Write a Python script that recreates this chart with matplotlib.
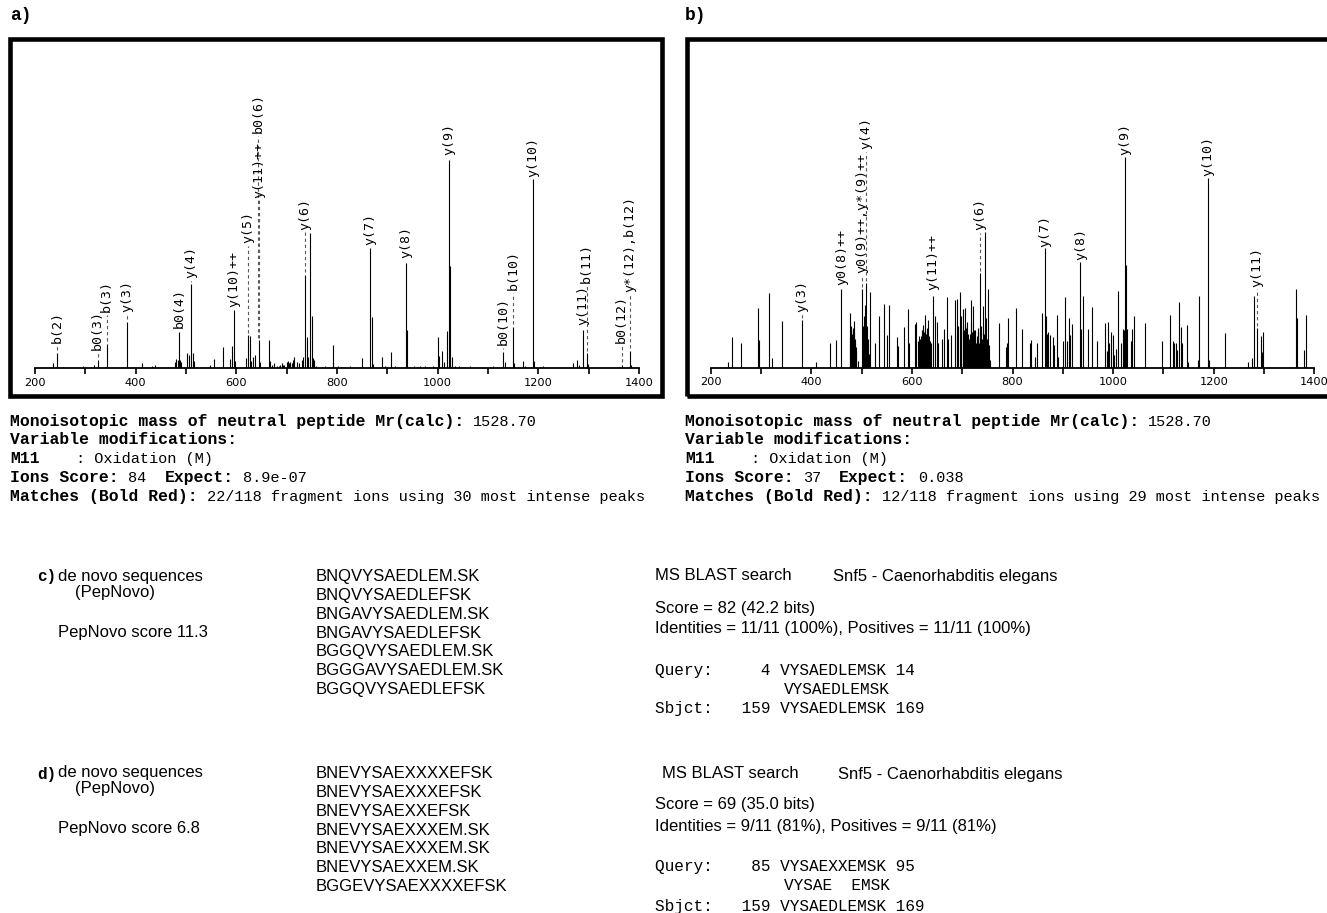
import matplotlib
matplotlib.use("Agg")
import matplotlib.pyplot as plt
import numpy as np
from matplotlib.patches import Rectangle
from matplotlib.ticker import MultipleLocator

# ---------------- data ----------------
# panel a: peak list (m/z, relative intensity)
a_mz = [235, 244, 255, 296, 317, 324.5, 342.4, 383.4, 413, 425,
        433, 439, 478, 480, 484, 486.7, 488.5, 491, 502.6, 505,
        510, 513, 515, 528, 535, 547.7, 556, 574, 587.4, 592,
        594.8, 597, 619, 622.6, 627, 630, 633.7, 636.4, 645, 648,
        665, 667, 670, 675, 680, 684, 687, 690, 692, 695,
        700, 702, 704, 707, 710, 712, 715, 720, 725, 730,
        733, 736, 740, 743, 747, 749.8, 752, 755, 758, 777,
        791.6, 793, 802, 812, 826, 848.7, 866, 869, 872, 889,
        895, 907.3, 915, 937, 939.8, 946, 953, 960, 965, 975,
        982, 990, 1000, 1002.6, 1008, 1012, 1018, 1023, 1025, 1028,
        1035, 1042, 1065, 1110, 1118, 1130.5, 1133, 1150.4, 1152, 1170,
        1173, 1190, 1192, 1210, 1268, 1277.5, 1280, 1288, 1296, 1298,
        1365.7, 1382, 1385]
a_int = [2.4, 7.5, 0.5, 1.1, 1.6, 4.0, 11.7, 22.4, 2.4, 0.8,
         1.1, 1.6, 3.2, 4.3, 4.0, 17.6, 4.0, 3.0, 7.2, 6.4,
         40.4, 7.2, 3.5, 0.8, 0.6, 1.6, 4.5, 10.4, 4.5, 10.9,
         28.0, 3.5, 4.8, 16.0, 15.7, 3.5, 5.6, 6.4, 13.6, 3.0,
         13.6, 3.5, 1.6, 2.4, 1.1, 1.1, 1.6, 2.4, 1.6, 1.6,
         3.2, 3.5, 2.7, 3.2, 2.4, 3.8, 5.3, 3.2, 2.4, 4.0,
         5.5, 45.0, 15.0, 5.3, 65.0, 25.0, 4.8, 4.0, 1.0, 1.0,
         11.2, 3.2, 1.0, 0.6, 1.0, 4.8, 57.7, 24.5, 2.0, 5.6,
         1.0, 7.7, 1.0, 50.5, 18.4, 0.8, 1.1, 0.8, 1.1, 1.1,
         0.8, 1.1, 15.2, 6.0, 8.5, 3.2, 18.0, 100.0, 49.0, 5.3,
         1.1, 1.1, 1.1, 1.1, 0.8, 8.0, 3.2, 20.0, 2.4, 3.7,
         1.1, 91.0, 3.5, 1.1, 2.4, 4.0, 1.6, 18.4, 7.2, 2.0,
         1.6, 8.5, 1.6]
a_labels = ["b(2)", "b0(3)", "b(3)", "y(3)", "b0(4)", "y(4)", "y(10)++", "y(5)",
            "y(11)++", "b0(6)", "y(6)", "y(7)", "y(8)", "y(9)", "b0(10)", "b(10)",
            "y(10)", "y(11)", "b(11)", "b0(12)", "y*(12),b(12)"]
a_label_mz = [244, 324.5, 342.4, 383.4, 486.7, 510, 594.8, 622.6,
              645, 643.5, 736, 866, 937, 1023, 1130.5, 1150.4,
              1190, 1288, 1296, 1365.7, 1382]

# panel b: main peak list
b_mz = [234, 243, 261, 295, 297, 316, 322, 341, 382, 410,
        437, 449, 460, 477, 479, 480, 482, 484, 486, 488,
        492, 501, 503, 504, 506, 508, 510, 512, 514, 516,
        526, 534, 544, 550, 554, 571, 573, 584, 592, 594,
        606, 609, 612, 614, 616, 618, 620, 623, 626, 628,
        630, 632, 634, 636, 642, 645, 650, 652, 660, 663,
        669, 672, 678, 686, 689, 692, 695, 698, 701, 704,
        706, 709, 712, 714, 717, 719, 721, 723, 726, 728,
        731, 733, 735, 738, 741, 743, 745, 748, 750, 752,
        755, 774, 787, 789, 792, 806, 818, 834, 837, 845,
        849, 859, 865, 867, 869, 871, 874, 880, 883, 889,
        891, 900, 905, 909, 912, 915, 919, 935, 937, 940,
        950, 959, 967, 983, 988, 990, 992, 995, 999, 1002,
        1005, 1009, 1015, 1019, 1021, 1023, 1025, 1028, 1036, 1038,
        1042, 1063, 1098, 1113, 1119, 1122, 1125, 1128, 1131, 1134,
        1136, 1147, 1149, 1169, 1171, 1189, 1191, 1223, 1268, 1277,
        1280, 1286, 1294, 1296, 1298, 1363, 1366, 1380, 1383]
b_int = [2.9, 14.6, 12.0, 28.8, 13.3, 35.7, 4.5, 22.4, 22.9, 2.6,
         11.7, 13.3, 37.7, 26.4, 18.0, 14.0, 18.0, 22.4, 12.0, 8.0,
         3.0, 37.7, 20.0, 25.0, 30.0, 40.5, 20.0, 14.0, 6.4, 36.5,
         11.7, 24.8, 30.6, 15.7, 30.1, 14.6, 10.5, 19.7, 28.0, 11.7,
         21.0, 22.0, 13.0, 15.0, 14.0, 15.0, 16.0, 20.5, 25.3, 12.0,
         14.0, 23.0, 15.0, 10.0, 34.5, 24.8, 22.0, 12.0, 14.0, 18.4,
         34.0, 14.0, 15.7, 32.5, 33.0, 20.0, 36.5, 25.0, 28.0, 18.0,
         28.5, 22.0, 16.0, 14.0, 32.5, 17.0, 29.6, 18.0, 14.0, 12.0,
         19.0, 12.0, 45.4, 20.0, 29.6, 16.0, 65.0, 24.0, 14.0, 37.7,
         3.5, 21.6, 10.0, 12.0, 23.7, 28.5, 18.4, 12.0, 13.3, 5.0,
         12.0, 26.4, 57.4, 24.8, 16.0, 17.3, 15.5, 14.6, 11.0, 25.3,
         5.0, 13.0, 33.8, 13.0, 23.7, 15.5, 21.0, 51.0, 18.8, 34.5,
         18.4, 29.0, 13.0, 21.6, 8.0, 22.0, 12.0, 17.3, 15.5, 6.0,
         9.0, 36.9, 12.0, 18.4, 18.0, 101.4, 49.4, 18.4, 13.0, 18.8,
         24.8, 21.6, 13.0, 25.3, 13.0, 12.0, 12.0, 8.5, 31.7, 19.7,
         12.0, 20.5, 2.9, 3.5, 34.6, 91.0, 3.5, 16.8, 2.6, 4.5,
         34.6, 18.9, 15.2, 7.6, 17.3, 37.8, 23.7, 8.7, 25.3]
# panel b: densely packed low peaks in the crowded regions
b_dense_mz = [476, 478, 481, 483, 485, 487, 489,
              619, 621, 622, 624, 625, 627, 629, 631, 633, 635, 637,
              690, 697, 702, 705, 708, 711, 715, 718, 722, 725, 729, 732,
              736, 739, 742, 746, 749, 753]
b_dense_int = [15, 20, 16, 19, 17, 14, 10,
               14, 18, 15, 17, 13, 18, 16, 19, 14, 13, 12,
               16, 20, 17, 21, 19, 13, 16, 22, 14, 18, 15, 17,
               19, 14, 17, 20, 13, 11]
b_labels = ["y(3)", "y0(8)++", "y0(9)++,y*(9)++", "y(4)", "y(11)++", "y(6)",
            "y(7)", "y(8)", "y(9)", "y(10)", "y(11)"]
b_label_mz = [382, 460, 501, 508, 642, 735, 865, 935, 1023, 1189, 1286]

x_major = [200, 400, 600, 800, 1000, 1200, 1400]

a_info = [[("Monoisotopic mass of neutral peptide Mr(calc):", True), ("1528.70", False)],
          [("Variable modifications:", True)],
          [("M11", True), (": Oxidation (M)", False)],
          [("Ions Score:", True), ("84", False), ("Expect:", True), ("8.9e-07", False)],
          [("Matches (Bold Red):", True), ("22/118 fragment ions using 30 most intense peaks", False)]]
b_info = [[("Monoisotopic mass of neutral peptide Mr(calc):", True), ("1528.70", False)],
          [("Variable modifications:", True)],
          [("M11", True), (": Oxidation (M)", False)],
          [("Ions Score:", True), ("37", False), ("Expect:", True), ("0.038", False)],
          [("Matches (Bold Red):", True), ("12/118 fragment ions using 29 most intense peaks", False)]]

c_seqs = ["BNQVYSAEDLEM.SK", "BNQVYSAEDLEFSK", "BNGAVYSAEDLEM.SK", "BNGAVYSAEDLEFSK",
          "BGGQVYSAEDLEM.SK", "BGGGAVYSAEDLEM.SK", "BGGQVYSAEDLEFSK"]
d_seqs = ["BNEVYSAEXXXXEFSK", "BNEVYSAEXXXEFSK", "BNEVYSAEXXEFSK", "BNEVYSAEXXXEM.SK",
          "BNEVYSAEXXXEM.SK", "BNEVYSAEXXEM.SK", "BGGEVYSAEXXXXEFSK"]
c_score = "PepNovo score 11.3"
d_score = "PepNovo score 6.8"
c_blast = ["Score = 82 (42.2 bits)", "Identities = 11/11 (100%), Positives = 11/11 (100%)"]
d_blast = ["Score = 69 (35.0 bits)", "Identities = 9/11 (81%), Positives = 9/11 (81%)"]
c_align = ["Query:     4 VYSAEDLEMSK 14", "VYSAEDLEMSK", "Sbjct:   159 VYSAEDLEMSK 169"]
d_align = ["Query:    85 VYSAEXXEMSK 95", "VYSAE  EMSK", "Sbjct:   159 VYSAEDLEMSK 169"]

# ---------------- layout ----------------
W, H = 1327, 913
fig = plt.figure(figsize=(W / 100, H / 100), dpi=100)
bg = fig.add_axes([0, 0, 1, 1])
bg.set_xlim(0, W)
bg.set_ylim(H, 0)
bg.axis("off")

PX_PER_UNIT = 2.08  # pixels per intensity unit
a_label_base = [12.2, 8.8, 27, 27, 19.4, 43.4, 29.5, 60.2, 82, 113, 66.5, 59.3, 53,
                102.5, 11.2, 37.6, 92, 20.8, 41, 12.2, 36.7]
b_label_base = [26.8, 39.8, 45.5, 105.0, 37.3, 66.2, 58, 51.8, 102.3, 92.2, 38.8]

MONO = "Liberation Mono"
SANS = "Liberation Sans"
LABEL_FS = 9.5


def spectrum(x200, x1400, base_y, mz, inten, labels, label_mz, label_base,
             extra_mz=None, extra_int=None):
    top_y = 45
    ax = fig.add_axes([x200 / W, 1 - base_y / H, (x1400 - x200) / W, (base_y - top_y) / H])
    ax.set_xlim(200, 1400)
    ax.set_ylim(0, (base_y - top_y) / PX_PER_UNIT)
    ax.patch.set_visible(False)
    for s in ("left", "right", "top"):
        ax.spines[s].set_visible(False)
    ax.spines["bottom"].set_linewidth(1.3)
    ax.set_yticks([])
    ax.set_xticks(x_major)
    ax.xaxis.set_minor_locator(MultipleLocator(100))
    ax.tick_params(axis="x", which="both", direction="out", length=4.5, width=1.2,
                   labelsize=8.2, pad=2.5)
    ax.tick_params(axis="x", which="minor", length=4.0)
    for lab in ax.get_xticklabels():
        lab.set_family("DejaVu Sans")
    ax.vlines(mz, 0, inten, color="black", lw=0.8)
    if extra_mz is not None:
        ax.vlines(extra_mz, 0, extra_int, color="black", lw=0.8)
    mz_arr = np.asarray(mz)
    gap = 2.5 / PX_PER_UNIT
    for txt, lx, lb in zip(labels, label_mz, label_base):
        pk = inten[int(np.argmin(np.abs(mz_arr - lx)))]
        if lb - gap > pk + gap:
            ax.plot([lx, lx], [pk + gap, lb - gap], color="0.35", lw=0.8,
                    ls=(0, (3, 2.5)), clip_on=False)
        ax.text(lx, lb, txt, rotation=90, ha="center", va="bottom",
                family="DejaVu Sans Mono", fontsize=LABEL_FS, clip_on=False)
    return ax


# frames
fig.add_artist(Rectangle((10.3 / W, 1 - 395.7 / H), 651.4 / W, 356.4 / H,
                         transform=fig.transFigure, fill=False, lw=3.3, ec="black"))
fig.add_artist(Rectangle((686.5 / W, 1 - 395.7 / H), 700 / W, 356.4 / H,
                         transform=fig.transFigure, fill=False, lw=3.3, ec="black"))

spectrum(35, 639, 368.3, a_mz, a_int, a_labels, a_label_mz, a_label_base)
spectrum(710.7, 1314.3, 367.7, b_mz, b_int, b_labels, b_label_mz, b_label_base,
         b_dense_mz, b_dense_int)

# panel letters
bg.text(10, 16, "a)", family=MONO, fontweight="bold", fontsize=13, va="center", ha="left")
bg.text(685, 16, "b)", family=MONO, fontweight="bold", fontsize=13, va="center", ha="left")

BOLD_FS, REG_FS = 11.8, 11.0


def info_block(x0, lines):
    ys = [422, 440.5, 459, 478, 496.5]
    for y, segs in zip(ys, lines):
        prev = None
        for s, bold in segs:
            kw = dict(family=MONO, fontsize=BOLD_FS if bold else REG_FS,
                      fontweight="bold" if bold else "normal", va="bottom", ha="left")
            if prev is None:
                prev = bg.text(x0, y + 7, s, **kw)
            else:
                ngap = 4 if s.startswith(":") else (2 if bold else 1)
                prev = bg.annotate(s, xy=(1, 0), xycoords=prev,
                                   xytext=(ngap * 0.6 * REG_FS, 0), textcoords="offset points", **kw)


info_block(10, a_info)
info_block(685, b_info)


def lower_block(y0, letter, seqs, score, blast, align, blast_x, snf_x):
    bg.text(37, y0 + 1, letter, family=MONO, fontweight="bold", fontsize=11.5, va="center", ha="left")
    bg.text(58, y0, "de novo sequences", family=SANS, fontsize=12, va="center", ha="left")
    bg.text(75, y0 + 16, "(PepNovo)", family=SANS, fontsize=12, va="center", ha="left")
    bg.text(58, y0 + 56, score, family=SANS, fontsize=12, va="center", ha="left")
    for i, s in enumerate(seqs):
        bg.text(316, y0 + 1 + i * 18.7, s, family=SANS, fontsize=12, va="center", ha="left")
    bg.text(blast_x, y0, "MS BLAST search", family=SANS, fontsize=12, va="center", ha="left")
    bg.text(snf_x, y0 + 1, "Snf5 - Caenorhabditis elegans", family=SANS, fontsize=12,
            va="center", ha="left")
    bg.text(655, y0 + 32, blast[0], family=SANS, fontsize=12, va="center", ha="left")
    bg.text(655, y0 + 53, blast[1], family=SANS, fontsize=12, va="center", ha="left")
    bg.text(655, y0 + 94, align[0], family=MONO, fontsize=11.6, va="center", ha="left")
    bg.text(784, y0 + 113, align[1], family=MONO, fontsize=11.6, va="center", ha="left")
    bg.text(655, y0 + 133, align[2], family=MONO, fontsize=11.6, va="center", ha="left")


lower_block(576, "c)", c_seqs, c_score, c_blast, c_align, 655, 833)
lower_block(773, "d)", d_seqs, d_score, d_blast, d_align, 662, 838)

fig.savefig("out.png", dpi=100)
